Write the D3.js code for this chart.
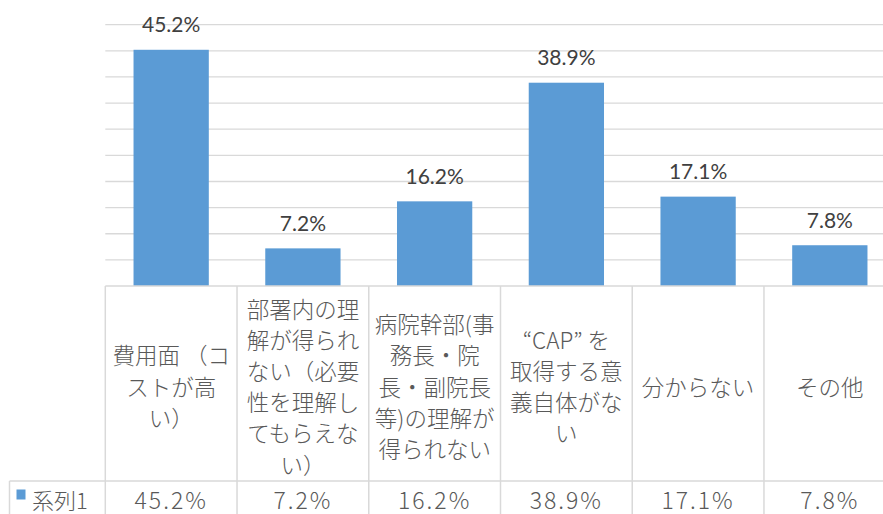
<!DOCTYPE html>
<html>
<head>
<meta charset="utf-8">
<script src="https://cdn.jsdelivr.net/npm/d3@7"></script>
<style>
  body { margin: 0; background: #fff; }
  svg { display: block; }
</style>
</head>
<body>
<svg id="chart" width="883" height="514"></svg>
<script>
// data
var categories = [
  "費用面 （コ\nストが高\nい）",
  "部署内の理\n解が得られ\nない（必要\n性を理解し\nてもらえな\nい）",
  "病院幹部(事\n務長・院\n長・副院長\n等)の理解が\n得られない",
  "“CAP” を\n取得する意\n義自体がな\nい",
  "分からない",
  "その他"
];
var values = [45.2, 7.2, 16.2, 38.9, 17.1, 7.8];
var seriesName = "系列1";
var yTicks = [0, 5, 10, 15, 20, 25, 30, 35, 40, 45, 50];

var svg = d3.select("#chart");
var gridColor = "#d9d9d9";
var textColor = "#595959";
var jpFont = "'Noto Sans CJK JP', sans-serif";

var x = d3.scaleBand()
    .domain(categories)
    .range([105.3, 895.7])
    .padding(0);

var y = d3.scaleLinear()
    .domain([0, 50])
    .range([286, 24.7]);

var barW = x.bandwidth() / 1.75;

// gridlines
svg.selectAll("line.grid")
   .data(yTicks.slice(1))
   .enter()
   .append("line")
   .attr("class", "grid")
   .attr("x1", 105.3)
   .attr("x2", 900)
   .attr("y1", function(d) { return y(d); })
   .attr("y2", function(d) { return y(d); })
   .attr("stroke", gridColor)
   .attr("stroke-width", 1.3);

// bars
svg.selectAll("rect.bar")
   .data(values)
   .enter()
   .append("rect")
   .attr("class", "bar")
   .attr("x", function(d, i) { return x(categories[i]) + (x.bandwidth() - barW) / 2; })
   .attr("y", function(d) { return y(d); })
   .attr("width", barW)
   .attr("height", function(d) { return y(0) - y(d); })
   .attr("fill", "#5b9bd5");

// data labels
svg.selectAll("text.label")
   .data(values)
   .enter()
   .append("text")
   .attr("class", "label")
   .text(function(d) { return d.toFixed(1) + "%"; })
   .attr("text-anchor", "middle")
   .attr("x", function(d, i) { return x(categories[i]) + x.bandwidth() / 2; })
   .attr("y", function(d) { return y(d) - 17.5; })
   .attr("font-family", "Lato, sans-serif")
   .attr("font-size", "21px")
   .attr("fill", "#404040");

// data table
var rowTop = y(0), rowMid = 481, rowBot = 530;

svg.append("line")
   .attr("x1", 105.3).attr("x2", 900)
   .attr("y1", rowTop).attr("y2", rowTop)
   .attr("stroke", gridColor).attr("stroke-width", 1.5);

svg.append("line")
   .attr("x1", 9.5).attr("x2", 900)
   .attr("y1", rowMid).attr("y2", rowMid)
   .attr("stroke", gridColor).attr("stroke-width", 1.5);

svg.append("line")
   .attr("x1", 9.5).attr("x2", 9.5)
   .attr("y1", rowMid).attr("y2", rowBot)
   .attr("stroke", gridColor).attr("stroke-width", 1.5);

svg.selectAll("line.col")
   .data(categories)
   .enter()
   .append("line")
   .attr("class", "col")
   .attr("x1", function(d) { return x(d); })
   .attr("x2", function(d) { return x(d); })
   .attr("y1", rowTop)
   .attr("y2", rowBot)
   .attr("stroke", gridColor)
   .attr("stroke-width", 1.5);

// category cells
var lineH = 31.2;
categories.forEach(function(c) {
  var lines = c.split("\n");
  var cy = (rowTop + rowMid) / 2 + 2;
  var t = svg.append("text")
     .attr("text-anchor", "middle")
     .attr("font-family", jpFont)
     .attr("font-weight", 300)
     .attr("font-size", "22.5px")
     .attr("fill", textColor);
  lines.forEach(function(l, j) {
    t.append("tspan")
     .attr("x", x(c) + x.bandwidth() / 2)
     .attr("y", cy + (j - (lines.length - 1) / 2) * lineH)
     .attr("dominant-baseline", "central")
     .text(l);
  });
});

// value row
svg.selectAll("text.val")
   .data(values)
   .enter()
   .append("text")
   .attr("class", "val")
   .text(function(d) { return d.toFixed(1) + "%"; })
   .attr("text-anchor", "middle")
   .attr("dominant-baseline", "central")
   .attr("x", function(d, i) { return x(categories[i]) + x.bandwidth() / 2; })
   .attr("y", 499)
   .attr("font-family", jpFont)
   .attr("font-weight", 300)
   .attr("font-size", "23px")
   .attr("letter-spacing", "2px")
   .attr("fill", textColor);

// legend key
svg.append("rect")
   .attr("x", 16.5).attr("y", 489.5)
   .attr("width", 9).attr("height", 10)
   .attr("fill", "#5b9bd5");

svg.append("text")
   .text(seriesName)
   .attr("x", 32)
   .attr("y", 499)
   .attr("dominant-baseline", "central")
   .attr("font-family", jpFont)
   .attr("font-weight", 300)
   .attr("font-size", "22px")
   .attr("fill", textColor);
</script>
</body>
</html>
